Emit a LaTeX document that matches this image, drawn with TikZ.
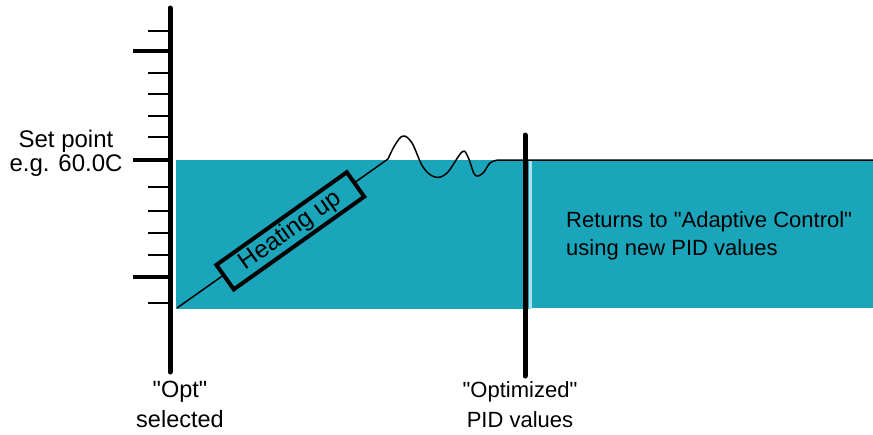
\documentclass[tikz,border=0pt]{standalone}
\usepackage{fontspec}
\setmainfont{Liberation Sans}
\definecolor{tealS}{RGB}{27,165,186}
\newcommand\qd{\textquotedbl}
\tikzset{
  fieldS/.style ={fill=tealS},
  gapS/.style   ={fill=tealS!35},
  axisS/.style  ={line width=5pt, line cap=round},
  majorT/.style ={line width=3.5pt},
  minorT/.style ={line width=1.3pt},
  curveS/.style ={line width=1.5pt, line join=round},
  labelS/.style ={font=\fontsize{22}{30}\selectfont, align=center, inner sep=0pt},
  heatbox/.style={draw, line width=4pt, fill=tealS, minimum width=160pt, minimum height=30pt,
                  inner sep=0pt, rotate=35.4, font=\fontsize{24.5}{26}\selectfont},
}
\begin{document}
\begin{tikzpicture}[x=1pt,y=-1pt]
  \useasboundingbox (0,0) rectangle (873,434);
  % temperature field
  \fill[fieldS] (176,160) rectangle (529,309);
  \fill[gapS]   (529,160) rectangle (532,309);
  \fill[fieldS] (532,160) rectangle (873,308);
  % scale
  \foreach \y in {31,73,94,116,137,187,211,233,255,303}{\draw[minorT] (148,\y) -- (170,\y);}
  \foreach \y in {51,160,277}{\draw[majorT] (133,\y) -- (170,\y);}
  \coordinate (axtop) at (170,8);   \coordinate (axbot) at (170,372);
  \coordinate (optop) at (525,135); \coordinate (opbot) at (525,376);
  \draw[axisS] (axtop) -- (axbot);
  \draw[axisS] (optop) -- (opbot);
  % response curve
  \coordinate (start) at (177,308);
  \coordinate (over) at (388,159);
  \coordinate (flat) at (873,160);
  \draw[curveS] (start) -- (over) -- plot[smooth, tension=0.6] coordinates {(388,159) (395,145) (403,136)
      (412,143) (423,167) (435,177) (447,173) (462,152) (468,157) (475,175) (483,173) (490,163) (498,160)} -- (flat);
  \node[heatbox] (heat) at (290.3,230.8) {Heating up};
  % labels
  \node[labelS, anchor=north, font=\fontsize{24}{24}\selectfont] (setpt) at (66,130) {Set point\\e.g. 60.0C};
  \node[labelS, anchor=north, font=\fontsize{23.5}{30}\selectfont] (optsel) at (180,381) {\qd Opt\qd\\selected};
  \node[labelS, anchor=north] (optim) at (520,381) {\qd Optimized\qd\\PID values};
  \node[labelS, anchor=north west, align=left, font=\fontsize{22}{28}\selectfont] (ret) at (566,211)
      {Returns to \qd Adaptive Control\qd\\using new PID values};
\end{tikzpicture}
\end{document}
